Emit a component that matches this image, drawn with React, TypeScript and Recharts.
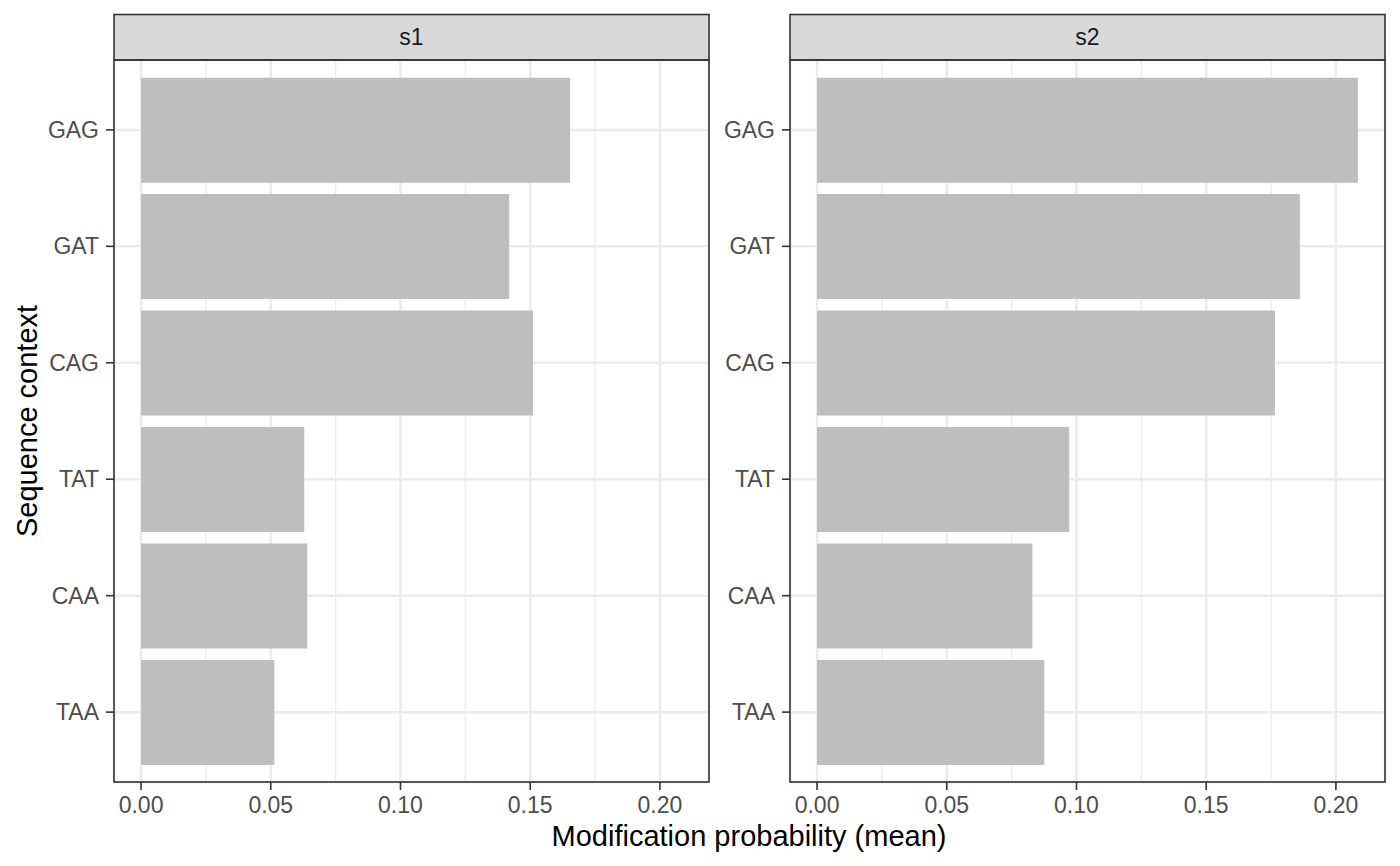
import React from 'react';
import { BarChart, Bar, XAxis, YAxis, CartesianGrid } from 'recharts';

const contexts = ['GAG', 'GAT', 'CAG', 'TAT', 'CAA', 'TAA'];
const s1Values = [0.1654, 0.1419, 0.1511, 0.0629, 0.0641, 0.0514];
const s2Values = [0.2085, 0.1861, 0.1765, 0.0972, 0.083, 0.0876];
const panelLabels = ['s1', 's2'];
const majorTicks = [0, 0.05, 0.1, 0.15, 0.2];
const minorTicks = [0.025, 0.075, 0.125, 0.175];
const xTitle = 'Modification probability (mean)';
const yTitle = 'Sequence context';

const xMax = Math.max(...s1Values, ...s2Values);
const xDomain: [number, number] = [-0.05 * xMax, 1.05 * xMax];

const FONT = '"Liberation Sans", Arial, Helvetica, sans-serif';
const tickStyle = { fill: '#4D4D4D', fontSize: 23, fontFamily: FONT };

type PanelProps = {
  values: number[];
  left: number;
  width: number;
  yAxisWidth: number;
  rightMargin: number;
};

function Panel({ values, left, width, yAxisWidth, rightMargin }: PanelProps) {
  const data = contexts.map((c, i) => ({ ctx: c, value: values[i] }));
  return (
    <div style={{ position: 'absolute', left, top: 0 }}>
      <BarChart
        width={width}
        height={866}
        data={data}
        layout="vertical"
        margin={{ top: 60, right: rightMargin, bottom: 44, left: 0 }}
      >
        <XAxis
          xAxisId="minor"
          type="number"
          domain={xDomain}
          ticks={minorTicks}
          allowDataOverflow
          hide
        />
        <CartesianGrid
          xAxisId="minor"
          horizontal={false}
          stroke="#EBEBEB"
          strokeWidth={1.3}
        />
        <CartesianGrid stroke="#EBEBEB" strokeWidth={2.5} />
        <XAxis
          type="number"
          domain={xDomain}
          ticks={majorTicks}
          allowDataOverflow
          interval={0}
          height={40}
          axisLine={false}
          tickLine={{ stroke: '#333333', strokeWidth: 1.6 }}
          tickSize={8}
          tickMargin={7}
          tick={tickStyle}
          tickFormatter={(v: number) => v.toFixed(2)}
        />
        <YAxis
          type="category"
          dataKey="ctx"
          width={yAxisWidth}
          interval={0}
          padding={{ top: 11.65, bottom: 11.65 }}
          axisLine={false}
          tickLine={{ stroke: '#333333', strokeWidth: 1.6 }}
          tickSize={8}
          tickMargin={7}
          tick={tickStyle}
        />
        <Bar dataKey="value" fill="#BEBEBE" barSize={105} isAnimationActive={false} />
      </BarChart>
    </div>
  );
}

export default function App() {
  const panels = [
    { x: 114, w: 595 },
    { x: 790, w: 595 },
  ];
  return (
    <div style={{ position: 'absolute', left: 0, top: 0, width: 1400, height: 866, background: '#FFFFFF', fontFamily: FONT }}>
      <Panel values={s1Values} left={0} width={720} yAxisWidth={114} rightMargin={11} />
      <Panel values={s2Values} left={700} width={700} yAxisWidth={90} rightMargin={15} />
      <svg
        width={1400}
        height={866}
        style={{ position: 'absolute', left: 0, top: 0, pointerEvents: 'none' }}
      >
        {panels.map((p, i) => (
          <g key={i}>
            <rect x={p.x} y={14.5} width={p.w} height={45.5} fill="#D9D9D9" stroke="#333333" strokeWidth={1.6} />
            <text
              x={p.x + p.w / 2}
              y={45}
              textAnchor="middle"
              fontSize={23}
              fill="#1A1A1A"
              fontFamily={FONT}
            >
              {panelLabels[i]}
            </text>
            <rect x={p.x} y={60} width={p.w} height={722} fill="none" stroke="#333333" strokeWidth={1.6} />
          </g>
        ))}
        <text x={749} y={846} textAnchor="middle" fontSize={29} fill="#000000" fontFamily={FONT}>
          {xTitle}
        </text>
        <text
          x={0}
          y={0}
          transform="translate(37,421) rotate(-90)"
          textAnchor="middle"
          fontSize={29}
          fill="#000000"
          fontFamily={FONT}
        >
          {yTitle}
        </text>
      </svg>
    </div>
  );
}
